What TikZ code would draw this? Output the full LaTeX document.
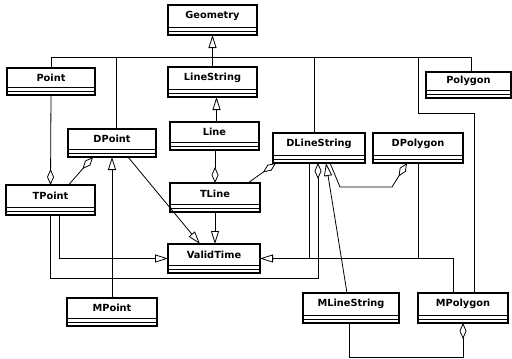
\documentclass[tikz,border=0pt]{standalone}
\usepackage{fontspec}
\setmainfont{DejaVu Sans}
\usetikzlibrary{arrows.meta,calc}
\newcommand\umlclass[6]{%
  \pgfmathsetmacro\clw{#4-#2}\pgfmathsetmacro\clh{#5-#3}%
  \node[classbox, minimum width=\clw pt, minimum height=\clh pt] (#1) at (#2,#3) {};
  \draw[complines] ([yshift=8pt]#1.south west) -- ([yshift=8pt]#1.south east);
  \draw[complines] ([yshift=4pt]#1.south west) -- ([yshift=4pt]#1.south east);
  \node[classtitle] at ($(#1.north)!0.5!([yshift=8pt]#1.south)$) {#6};
}
\begin{document}
\begin{tikzpicture}[x=1pt,y=-1pt,
  classbox/.style={draw, line width=1.2pt, fill=white, anchor=north west, inner sep=0pt, outer sep=0pt},
  complines/.style={line width=0.8pt},
  classtitle/.style={font=\bfseries\fontsize{9.8}{11}\selectfont, inner sep=0pt},
  conn/.style={line width=0.8pt},
  gen/.style={conn, -{Triangle[open,length=13pt,width=8pt,line width=0.8pt]}},
  agg/.style={conn, {Diamond[open,length=16pt,width=7pt,line width=0.8pt]}-},
]
\useasboundingbox (0,0) rectangle (512,359);
\umlclass{cGeom}{168}{5}{257}{35}{Geometry}
\umlclass{cPoint}{7}{68}{95}{95}{Point}
\umlclass{cLineString}{168}{67}{257}{97}{LineString}
\umlclass{cPolygon}{426}{72}{511}{98}{Polygon}
\umlclass{cLine}{170}{122}{259}{150}{Line}
\umlclass{cDPoint}{68}{129}{156}{157}{DPoint}
\umlclass{cDLineString}{273}{133}{365}{163}{DLineString}
\umlclass{cDPolygon}{373}{133}{463}{163}{DPolygon}
\umlclass{cTPoint}{6}{185}{95}{215}{TPoint}
\umlclass{cTLine}{170}{183}{260}{212}{TLine}
\umlclass{cValid}{168}{244}{260}{273}{ValidTime}
\umlclass{cMPoint}{67}{298}{157}{326}{MPoint}
\umlclass{cMLineString}{303}{293}{399}{323}{MLineString}
\umlclass{cMPolygon}{418}{293}{508}{323}{MPolygon}

% generalisation bus to Geometry
\coordinate (busL) at (cPoint.north |- 0,57);
\coordinate (busR) at (471,57);
\draw[conn] (cPoint.north) -- (busL) -- (busR) -- (busR |- cPolygon.north);
\draw[gen] (cLineString.north) -- (cGeom.south);
\coordinate (bDP) at (116,57);
\draw[conn] (bDP) -- (bDP |- cDPoint.north);
\coordinate (bDL) at (314,57);
\draw[conn] (bDL) -- (bDL |- cDLineString.north);
\coordinate (bMP) at (418,57);
\coordinate (kMP) at (474,113);
\draw[conn] (bMP) |- (kMP) -- (kMP |- cMPolygon.north);

% central column
\draw[gen] ([xshift=2pt]cLine.north) -- ([xshift=2pt]cLine.north |- cLineString.south);
\draw[agg] (cTLine.north) -- (cTLine.north |- cLine.south);
\draw[gen] (cTLine.south) -- (cTLine.south |- cValid.north);

% DPoint relations
\draw[gen] ([xshift=16pt]cDPoint.south) -- ([xshift=-14pt]cValid.north);
\draw[gen] (cMPoint.north) -- (cMPoint.north |- cDPoint.south);
\draw[agg] ([xshift=-19pt]cDPoint.south) -- ([xshift=18pt]cTPoint.north);
\draw[agg] (cTPoint.north) -- (cPoint.south);

% TPoint relations
\draw[gen] ([xshift=8.5pt]cTPoint.south) |- (cValid.west);
\coordinate (kTD) at (318,278);
\draw[agg] (kTD |- cDLineString.south) -- (kTD) -| (cTPoint.south);

% DLineString relations
\draw[gen] ([xshift=-4pt]cMLineString.north) -- ([xshift=7pt]cDLineString.south);
\draw[agg] ([xshift=-43pt]cDLineString.south) -- ([xshift=33pt]cTLine.north);
\coordinate (kDP1) at (392,187);
\coordinate (kDP2) at (340,187);
\draw[agg] ([xshift=-11pt]cDPolygon.south) -- (kDP1) -- (kDP2) -- ([xshift=11pt]cDLineString.south);

% right-hand generalisations to ValidTime
\coordinate (kV) at (453,0);
\draw[gen] (kV |- cMPolygon.north) -- (kV |- cValid.east) -- (cValid.east);
\draw[conn] ([xshift=-10pt]cDLineString.south) -- ([xshift=-10pt]cDLineString.south |- cValid.east);
\draw[conn] (cDPolygon.south) -- (cDPolygon.south |- cValid.east);

% MLineString - MPolygon
\coordinate (kML) at (349,357);
\draw[agg] (cMPolygon.south) |- (kML) -- (kML |- cMLineString.south);
\end{tikzpicture}
\end{document}
